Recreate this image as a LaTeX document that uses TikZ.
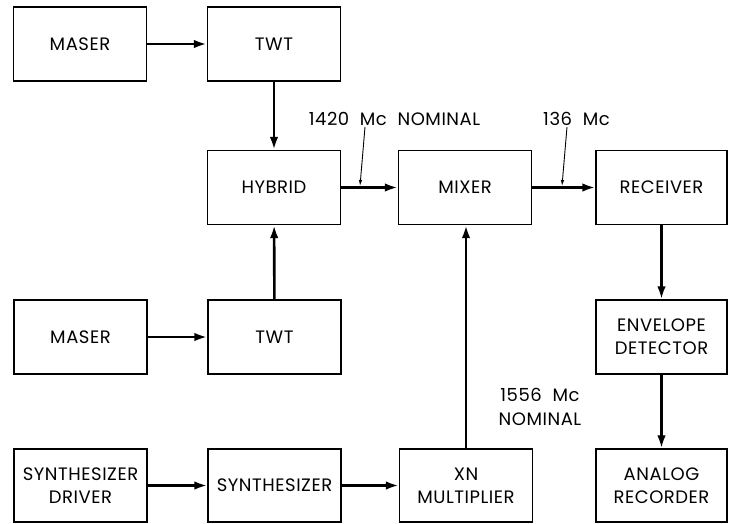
\documentclass[tikz,border=0pt]{standalone}
\usepackage{fontspec}
\setmainfont{Poppins}[LetterSpace=3]
\usetikzlibrary{arrows.meta}

\tikzset{
  blk/.style={draw, line width=1.3pt, minimum width=133pt, minimum height=74pt,
    align=center, inner sep=1pt, font=\fontsize{18}{23}\selectfont},
  sig/.style={line width=2.6pt, -{Latex[length=13pt,width=8.5pt]}},
  ptr/.style={line width=0.9pt, -{Latex[length=6pt,width=3.5pt]}},
  lbl/.style={align=center, font=\fontsize{18}{24}\selectfont}
}

\begin{document}
\begin{tikzpicture}[x=1pt,y=-1pt]
\useasboundingbox (0,0) rectangle (729,523);

% upper chain
\node[blk] (maserA) at (80,44) {MASER};
\node[blk] (twtA) at (274,44) {TWT};
\node[blk] (hybrid) at (274,187.5) {HYBRID};
\node[blk] (mixer) at (465,187.5) {MIXER};
\node[blk, minimum width=131pt] (receiver) at (661.5,187.5) {RECEIVER};

% lower chain
\node[blk] (maserB) at (80.5,337) {MASER};
\node[blk] (twtB) at (274.5,337) {TWT};
\node[blk, minimum width=131pt] (envdet) at (661.5,337) {ENVELOPE\\DETECTOR};

% bottom row
\node[blk, minimum height=73pt] (sdriver) at (80.5,485.5) {SYNTHESIZER\\DRIVER};
\node[blk, minimum height=73pt] (synth) at (274.5,485.5) {SYNTHESIZER};
\node[blk, minimum height=73pt] (xnmult) at (466,485.5) {XN\\MULTIPLIER};
\node[blk, minimum width=131pt, minimum height=73pt] (analog) at (661.5,485.5) {ANALOG\\RECORDER};

% signal paths
\draw[sig] (maserA) -- (twtA);
\draw[sig] (twtA) -- (hybrid);
\draw[sig] (maserB) -- (twtB);
\draw[sig] (twtB) -- (hybrid);
\draw[sig] (hybrid) -- (mixer);
\draw[sig] (mixer) -- (receiver);
\draw[sig] (receiver) -- (envdet);
\draw[sig] (envdet) -- (analog);
\draw[sig] (sdriver) -- (synth);
\draw[sig] (synth) -- (xnmult);
\draw[sig] (xnmult.north) -- (xnmult.north |- mixer.south);

% frequency labels
\node[lbl] (f1420) at (394.5,119) {1420\ \ Mc\ \ NOMINAL};
\node[lbl] (f136) at (576.5,119) {136\ \ Mc};
\node[lbl] (f1556) at (540,407) {1556\ \ Mc\\NOMINAL};
\coordinate (p1) at (365,127);
\coordinate (t1) at (360,186);
\coordinate (p2) at (567,127);
\coordinate (t2) at (562,186);
\draw[ptr] (p1) -- (t1);
\draw[ptr] (p2) -- (t2);
\end{tikzpicture}
\end{document}
